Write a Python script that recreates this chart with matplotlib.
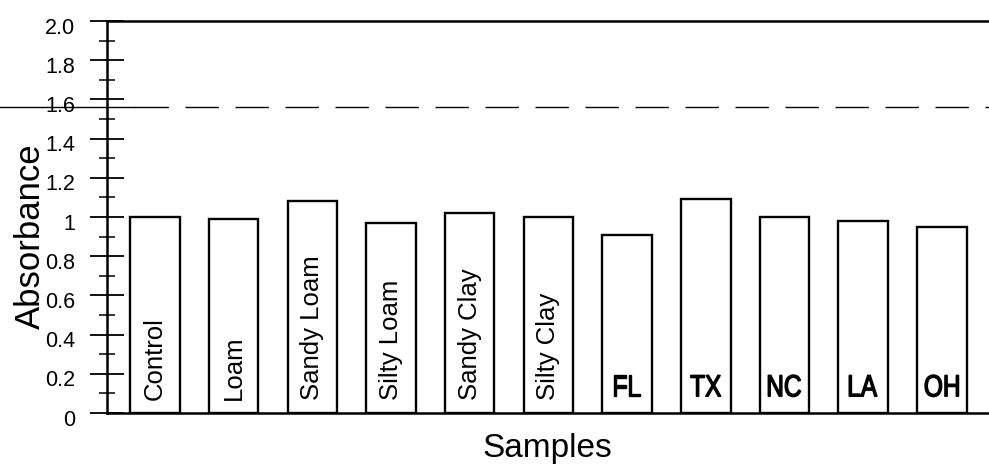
import matplotlib
matplotlib.use("Agg")
import matplotlib.pyplot as plt
from matplotlib import font_manager
from matplotlib.font_manager import FontProperties
from matplotlib.patches import PathPatch
from matplotlib.textpath import TextPath
from matplotlib.transforms import Affine2D, ScaledTranslation, offset_copy

# absorbance per soil sample
samples = ["Control", "Loam", "Sandy Loam", "Silty Loam", "Sandy Clay", "Silty Clay",
           "FL", "TX", "NC", "LA", "OH"]
absorbance = [1.00, 0.99, 1.08, 0.97, 1.02, 1.00, 0.91, 1.09, 1.00, 0.98, 0.95]
threshold = 1.56

ytick_vals = [2.0, 1.8, 1.6, 1.4, 1.2, 1.0, 0.8, 0.6, 0.4, 0.2, 0.0]
ytick_text = ["2.0", "1.8", "1.6", "1.4", "1.2", "1", "0.8", "0.6", "0.4", "0.2", "0"]


def have_font(name):
    try:
        font_manager.findfont(name, fallback_to_default=False)
        return True
    except ValueError:
        return False


plain = "Liberation Sans" if have_font("Liberation Sans") else "DejaVu Sans"
plt.rcParams["font.family"] = [plain, "DejaVu Sans"]

fig = plt.figure(figsize=(9.89, 4.68), dpi=100)
W, H = 989, 468
left_px, right_px, bot_px, top_px = 107, 989, 413, 21
ax = fig.add_axes([left_px / W, 1 - bot_px / H, (right_px - left_px) / W, (bot_px - top_px) / H])

x = list(range(len(samples)))
ax.bar(x, absorbance, width=0.63, facecolor="white", edgecolor="black", linewidth=1.7)

ax.set_xlim(-0.61, 10.6)
ax.set_ylim(0, 2.0)

for s in ["left", "bottom", "top"]:
    ax.spines[s].set_linewidth(1.8)
ax.spines["right"].set_visible(False)

ax.set_xticks([])
ax.set_yticks(ytick_vals)
ax.set_yticks([v + 0.1 for v in ytick_vals[1:]], minor=True)
ax.tick_params(axis="y", which="major", direction="inout", length=24, width=1.3, labelleft=False)
ax.tick_params(axis="y", which="minor", direction="inout", length=12, width=1.1)

# tick labels sit a little below their ticks
lab_tr = offset_copy(ax.get_yaxis_transform(), fig=fig, x=-32, y=-7, units="dots")
for v, t in zip(ytick_vals, ytick_text):
    ax.text(0, v, t, transform=lab_tr, ha="right", va="center", fontsize=15.5, clip_on=False)

# reference level
ytr = ax.get_yaxis_transform()
span = right_px - left_px
ax.plot([-left_px / span, 28 / span], [threshold, threshold], transform=ytr,
        color="black", lw=1.0, clip_on=False)
ax.plot([28 / span, 1.0], [threshold, threshold], transform=ytr,
        color="black", lw=1.0, dashes=(24, 12), clip_on=False)

# names inside the bars; two-letter codes in a condensed face
fp = FontProperties(family=plain)
px = fig.dpi / 72.0
for xi, name in zip(x, samples):
    if len(name) > 2:
        ax.text(xi, 0.065, name, rotation=90, ha="center", va="bottom", fontsize=18.5)
    else:
        tp = TextPath((0, 0), name, size=22, prop=fp)
        ext = tp.get_extents()
        sx = 0.8
        tr = (Affine2D().translate(-(ext.x0 + ext.x1) / 2, 0).scale(sx * px, px)
              + ScaledTranslation(xi, 0.085, ax.transData))
        ax.add_patch(PathPatch(tp, transform=tr, facecolor="black", edgecolor="black",
                               lw=1.0, clip_on=False))

fig.text(30 / W, 1 - 236 / H, "Absorbance", rotation=90, ha="center", va="center", fontsize=25)
fig.text(547 / W, 1 - 457 / H, "Samples", ha="center", va="baseline", fontsize=24)

fig.savefig("out.png", dpi=100, facecolor="white")
